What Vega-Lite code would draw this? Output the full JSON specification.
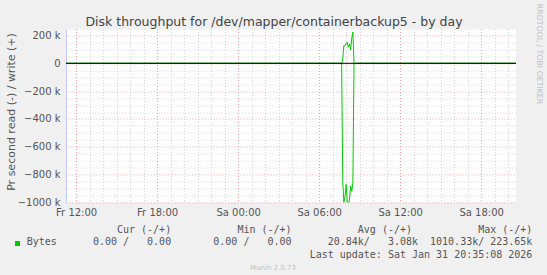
{
  "$schema": "https://vega.github.io/schema/vega-lite/v6.json",
  "width": 450,
  "height": 174,
  "autosize": {"type": "none"},
  "padding": {"left": 66, "top": 28.5, "right": 31, "bottom": 72.5},
  "background": "#f0f0f0",
  "config": {"view": {"stroke": null, "fill": "#ffffff"}, "font": "DejaVu Sans"},
  "title": {"text": "Munin 2.0.73", "orient": "bottom", "anchor": "middle", "dx": -18, "offset": 4, "fontSize": 7, "font": "DejaVu Sans", "fontWeight": "normal", "color": "#c0c0c0"},
  "data": {"values": [
    {"t": "2026-01-30T11:15:00", "series": "read", "v": 0},
    {"t": "2026-01-31T07:40:00", "series": "read", "v": 0},
    {"t": "2026-01-31T07:45:00", "series": "read", "v": -850000},
    {"t": "2026-01-31T07:50:00", "series": "read", "v": -1000000},
    {"t": "2026-01-31T07:55:00", "series": "read", "v": -960000},
    {"t": "2026-01-31T08:00:00", "series": "read", "v": -870000},
    {"t": "2026-01-31T08:05:00", "series": "read", "v": -990000},
    {"t": "2026-01-31T08:10:00", "series": "read", "v": -1010330},
    {"t": "2026-01-31T08:15:00", "series": "read", "v": -980000},
    {"t": "2026-01-31T08:20:00", "series": "read", "v": -880000},
    {"t": "2026-01-31T08:25:00", "series": "read", "v": -920000},
    {"t": "2026-01-31T08:30:00", "series": "read", "v": -860000},
    {"t": "2026-01-31T08:35:00", "series": "read", "v": 0},
    {"t": "2026-01-31T20:35:00", "series": "read", "v": 0},
    {"t": "2026-01-30T11:15:00", "series": "write", "v": 0},
    {"t": "2026-01-31T07:40:00", "series": "write", "v": 0},
    {"t": "2026-01-31T07:45:00", "series": "write", "v": 30000},
    {"t": "2026-01-31T07:50:00", "series": "write", "v": 130000},
    {"t": "2026-01-31T07:55:00", "series": "write", "v": 125000},
    {"t": "2026-01-31T08:00:00", "series": "write", "v": 145000},
    {"t": "2026-01-31T08:05:00", "series": "write", "v": 150000},
    {"t": "2026-01-31T08:10:00", "series": "write", "v": 115000},
    {"t": "2026-01-31T08:15:00", "series": "write", "v": 140000},
    {"t": "2026-01-31T08:20:00", "series": "write", "v": 95000},
    {"t": "2026-01-31T08:25:00", "series": "write", "v": 180000},
    {"t": "2026-01-31T08:30:00", "series": "write", "v": 223650},
    {"t": "2026-01-31T08:35:00", "series": "write", "v": 0},
    {"t": "2026-01-31T20:35:00", "series": "write", "v": 0}
  ]},
  "layer": [
    {
      "mark": {"type": "line", "strokeWidth": 1, "clip": true},
      "encoding": {
        "x": {
          "field": "t", "type": "temporal",
          "scale": {"domain": [{"year": 2026, "month": 1, "date": 30, "hours": 11, "minutes": 15}, {"year": 2026, "month": 1, "date": 31, "hours": 20, "minutes": 35}]},
          "axis": {
            "orient": "bottom",
            "values": [
              {"year": 2026, "month": 1, "date": 30, "hours": 12},
              {"year": 2026, "month": 1, "date": 30, "hours": 18},
              {"year": 2026, "month": 1, "date": 31, "hours": 0},
              {"year": 2026, "month": 1, "date": 31, "hours": 6},
              {"year": 2026, "month": 1, "date": 31, "hours": 12},
              {"year": 2026, "month": 1, "date": 31, "hours": 18}
            ],
            "labelExpr": "(day(datum.value) == 5 ? 'Fr' : 'Sa') + ' ' + timeFormat(datum.value, '%H:%M')",
            "labelFont": "DejaVu Sans", "labelFontSize": 10, "labelColor": "#555555",
            "labelPadding": 5, "labelFlush": false, "labelOverlap": false,
            "ticks": false, "tickSize": 0, "domain": false,
            "grid": true, "gridColor": "#f0a0a0", "gridDash": [1, 2], "gridWidth": 1, "gridOpacity": 1,
            "title": [
              "\u00a0\u00a0\u00a0\u00a0\u00a0\u00a0\u00a0\u00a0\u00a0\u00a0\u00a0\u00a0\u00a0\u00a0Cur\u00a0(-/+)\u00a0\u00a0\u00a0\u00a0\u00a0\u00a0\u00a0\u00a0\u00a0\u00a0\u00a0Min\u00a0(-/+)\u00a0\u00a0\u00a0\u00a0\u00a0\u00a0\u00a0\u00a0\u00a0\u00a0\u00a0Avg\u00a0(-/+)\u00a0\u00a0\u00a0\u00a0\u00a0\u00a0\u00a0\u00a0\u00a0\u00a0\u00a0Max\u00a0(-/+)\u00a0",
              "Bytes\u00a0\u00a0\u00a0\u00a0\u00a0\u00a00.00\u00a0/\u00a0\u00a0\u00a00.00\u00a0\u00a0\u00a0\u00a0\u00a0\u00a0\u00a00.00\u00a0/\u00a0\u00a0\u00a00.00\u00a0\u00a0\u00a0\u00a0\u00a0\u00a020.84k/\u00a0\u00a0\u00a03.08k\u00a0\u00a01010.33k/\u00a0223.65k",
              "Last\u00a0update:\u00a0Sat\u00a0Jan\u00a031\u00a020:35:08\u00a02026"
            ],
            "titleFont": "DejaVu Sans Mono", "titleFontSize": 10, "titleFontWeight": "normal", "titleColor": "#555555",
            "titleAlign": "right", "titleAngle": 0, "titleX": 465.9, "titleY": 21.8, "titleBaseline": "top", "titleLineHeight": 12.7
          }
        },
        "y": {
          "field": "v", "type": "quantitative",
          "scale": {"domain": [-1000000, 250000], "nice": false, "zero": false},
          "axis": {
            "orient": "left",
            "values": [-1000000, -800000, -600000, -400000, -200000, 0, 200000],
            "labelExpr": "datum.value == 0 ? '0' : format(datum.value / 1000, 'd') + ' k'",
            "labelFont": "DejaVu Sans", "labelFontSize": 10, "labelColor": "#555555",
            "labelPadding": 6, "labelFlush": false, "labelOverlap": false,
            "ticks": false, "tickSize": 0,
            "domain": true, "domainColor": "#c8c8f8", "domainWidth": 1,
            "grid": true, "gridColor": "#f0a0a0", "gridDash": [1, 2], "gridWidth": 1, "gridOpacity": 1,
            "title": "Pr second read (-) / write (+)",
            "titleFont": "DejaVu Sans", "titleFontSize": 11, "titleFontWeight": "normal", "titleColor": "#555555",
            "titleAngle": -90, "titleX": -54.3, "titleY": 83, "titleAlign": "center", "titleBaseline": "middle"
          }
        },
        "detail": {"field": "series"},
        "color": {
          "datum": "Bytes",
          "scale": {"domain": ["Bytes"], "range": ["#00cc00"]},
          "legend": {
            "orient": "none", "legendX": -53.5, "legendY": 210, "title": null, "padding": 0,
            "symbolType": "square", "symbolSize": 25, "symbolStrokeWidth": 0, "symbolFillColor": "#00cc00",
            "labelExpr": "''",
            "encode": {"symbols": {"update": {"fill": {"value": "#00cc00"}, "stroke": {"value": "#00cc00"}, "strokeWidth": {"value": 0}}}}
          }
        }
      }
    },
    {
      "data": {"values": [{}]},
      "mark": {"type": "rule", "color": "#000000", "strokeWidth": 1},
      "encoding": {
        "y": {
          "datum": 0, "type": "quantitative",
          "scale": {"domain": [-1000000, 250000], "nice": false, "zero": false},
          "axis": {
            "orient": "right",
            "values": [250000, 150000, 100000, 50000, -50000, -100000, -150000, -250000, -300000, -350000, -450000, -500000, -550000, -650000, -700000, -750000, -850000, -900000, -950000],
            "grid": true, "gridColor": "#d4d4d4", "gridDash": [1, 2], "gridWidth": 1, "gridOpacity": 1,
            "labels": false, "ticks": false, "domain": false,
            "title": "RRDTOOL / TOBI OETIKER",
            "titleFont": "DejaVu Sans", "titleFontSize": 7.8, "titleFontWeight": "normal", "titleColor": "#c0c0c0",
            "titleAngle": 90, "titleX": 22.7, "titleY": 25, "titleAlign": "center", "titleBaseline": "middle"
          }
        }
      }
    },
    {
      "mark": {"type": "rule", "opacity": 0},
      "encoding": {
        "x": {
          "field": "t", "type": "temporal",
          "scale": {"domain": [{"year": 2026, "month": 1, "date": 30, "hours": 11, "minutes": 15}, {"year": 2026, "month": 1, "date": 31, "hours": 20, "minutes": 35}]},
          "axis": {
            "orient": "top",
            "values": [
              {"year": 2026, "month": 1, "date": 30, "hours": 13},
              {"year": 2026, "month": 1, "date": 30, "hours": 14},
              {"year": 2026, "month": 1, "date": 30, "hours": 15},
              {"year": 2026, "month": 1, "date": 30, "hours": 16},
              {"year": 2026, "month": 1, "date": 30, "hours": 17},
              {"year": 2026, "month": 1, "date": 30, "hours": 19},
              {"year": 2026, "month": 1, "date": 30, "hours": 20},
              {"year": 2026, "month": 1, "date": 30, "hours": 21},
              {"year": 2026, "month": 1, "date": 30, "hours": 22},
              {"year": 2026, "month": 1, "date": 30, "hours": 23},
              {"year": 2026, "month": 1, "date": 31, "hours": 1},
              {"year": 2026, "month": 1, "date": 31, "hours": 2},
              {"year": 2026, "month": 1, "date": 31, "hours": 3},
              {"year": 2026, "month": 1, "date": 31, "hours": 4},
              {"year": 2026, "month": 1, "date": 31, "hours": 5},
              {"year": 2026, "month": 1, "date": 31, "hours": 7},
              {"year": 2026, "month": 1, "date": 31, "hours": 8},
              {"year": 2026, "month": 1, "date": 31, "hours": 9},
              {"year": 2026, "month": 1, "date": 31, "hours": 10},
              {"year": 2026, "month": 1, "date": 31, "hours": 11},
              {"year": 2026, "month": 1, "date": 31, "hours": 13},
              {"year": 2026, "month": 1, "date": 31, "hours": 14},
              {"year": 2026, "month": 1, "date": 31, "hours": 15},
              {"year": 2026, "month": 1, "date": 31, "hours": 16},
              {"year": 2026, "month": 1, "date": 31, "hours": 17},
              {"year": 2026, "month": 1, "date": 31, "hours": 19},
              {"year": 2026, "month": 1, "date": 31, "hours": 20}
            ],
            "grid": true, "gridColor": "#d4d4d4", "gridDash": [1, 2], "gridWidth": 1, "gridOpacity": 1,
            "labels": false, "ticks": false, "domain": false,
            "title": "Disk throughput for /dev/mapper/containerbackup5 - by day",
            "titleFont": "DejaVu Sans", "titleFontSize": 12.5, "titleFontWeight": "normal", "titleColor": "#444444",
            "titleAngle": 0, "titleX": 207.5, "titleY": -3.5, "titleAlign": "center", "titleBaseline": "alphabetic"
          }
        }
      }
    }
  ],
  "resolve": {"scale": {"x": "independent", "y": "independent"}}
}
